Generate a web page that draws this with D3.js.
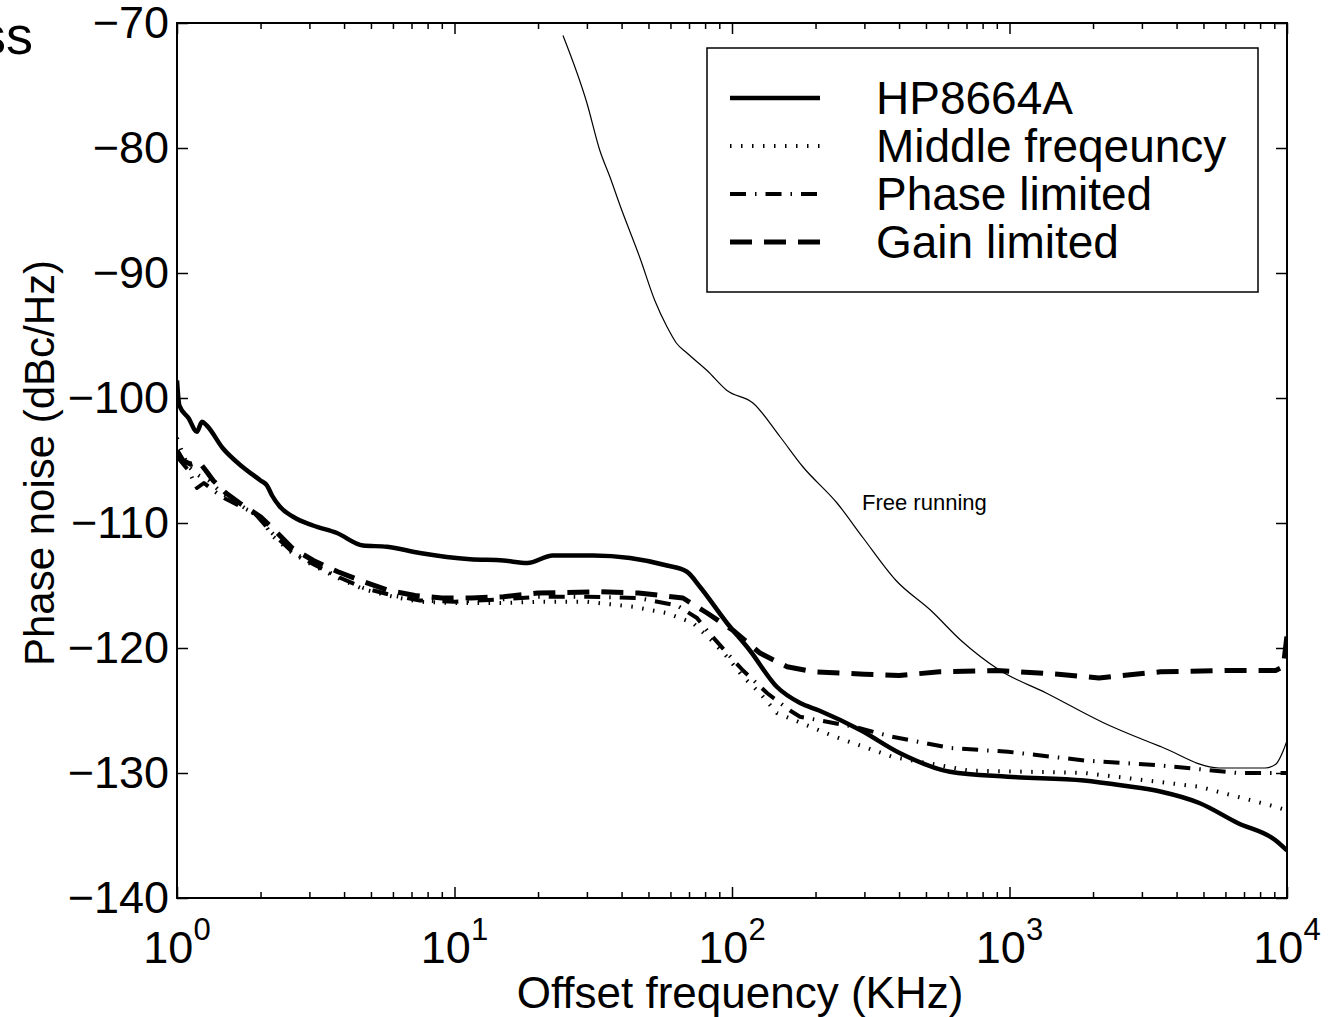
<!DOCTYPE html>
<html>
<head>
<meta charset="utf-8">
<script src="https://cdn.jsdelivr.net/npm/d3@7"></script>
<style>
  body { margin: 0; background: #fff; }
  svg { font-family: "Liberation Sans", Arial, Helvetica, sans-serif; }
</style>
</head>
<body>
<div class="chart"></div>
<script>
// offset frequency (kHz), phase noise (dBc/Hz)
const hp8664a = [
  [1, -98.6], [1.02, -100.6], [1.1, -101.6], [1.18, -102.7], [1.23, -101.9], [1.28, -102.2],
  [1.46, -104], [1.72, -105.5], [2.0, -106.6], [2.11, -107], [2.2, -107.8], [2.35, -108.7],
  [2.62, -109.5], [3.09, -110.2], [3.77, -110.8], [4.68, -111.8], [5.71, -111.9], [7.5, -112.4],
  [11.4, -112.9], [15, -113], [18.3, -113.2], [22.6, -112.6], [31.6, -112.6], [42.9, -112.8],
  [58.3, -113.4], [68.8, -113.9], [76.6, -115.1], [95.9, -118], [116, -120.2], [145, -123.1],
  [176, -124.4], [206, -125], [292, -126.6], [402, -128.4], [610, -129.9], [985, -130.3],
  [1855, -130.6], [2555, -131], [3525, -131.5], [4830, -132.4], [6640, -134], [9110, -135.4],
  [10000, -136.2]
];
const middleFreq = [
  [1, -103.2], [1.05, -104.5], [1.1, -105.5], [1.2, -106.2], [1.3, -106.6], [1.45, -107.6],
  [1.7, -108.6], [2.0, -109.6], [2.2, -111], [2.6, -112.4], [3.1, -113.4], [3.8, -114.4],
  [4.7, -115.3], [6, -115.9], [7.5, -116.3], [10, -116.4], [15, -116.4], [20, -116.3],
  [30, -116.3], [44, -116.7], [58.3, -117.2], [72.3, -118], [85.5, -119.5], [95.9, -120.7],
  [109.6, -122.3], [126, -123.6], [145, -125.2], [235, -127.1], [378, -128.7], [711, -129.8],
  [1870, -130], [4830, -131.1], [9110, -132.7], [10000, -133]
];
const phaseLimited = [
  [1, -104.7], [1.1, -105.8], [1.18, -107.2], [1.25, -106.8], [1.45, -107.9], [1.7, -108.7],
  [1.9, -109.2], [2.2, -110.8], [2.6, -112.3], [3.1, -113.3], [3.8, -114.3], [4.7, -115.2],
  [6, -115.8], [7.5, -116.2], [10, -116.3], [15, -116.1], [20, -115.9], [30, -115.9],
  [46, -116], [63.4, -116.6], [74.8, -117.6], [81.3, -118.6], [95.9, -120.4], [109.6, -121.8],
  [133.7, -123.6], [161.8, -125], [175.8, -125.5], [275, -126.3], [378, -127.1], [611, -128],
  [988, -128.3], [1870, -129], [3518, -129.4], [6670, -130], [10000, -130]
];
const gainLimited = [
  [1, -104.2], [1.05, -105], [1.12, -105.3], [1.2, -105.1], [1.27, -105.8], [1.35, -106.6],
  [1.5, -107.6], [1.68, -108.4], [2.0, -109.5], [2.3, -110.8], [2.6, -112], [3.1, -113],
  [3.8, -113.9], [4.7, -114.7], [5.8, -115.4], [7.2, -115.8], [9, -116], [11.5, -116],
  [15, -115.9], [20, -115.6], [33, -115.5], [46, -115.6], [66.6, -116], [81.3, -117.2],
  [101, -118.6], [126, -120.4], [158, -121.5], [196, -121.9], [300, -122.1], [400, -122.2],
  [560, -121.9], [900, -121.8], [1500, -122.1], [2100, -122.4], [3500, -121.9], [6000, -121.8],
  [9100, -121.8], [9700, -121.5], [10000, -119]
];
const freeRunning = [
  [24.6, -71], [30, -76.4], [33.4, -80.2], [36.3, -82.3], [39.5, -84.6], [46.6, -88.8],
  [52.7, -92.2], [58.3, -94.3], [63, -95.6], [68.8, -96.4], [81.3, -97.8], [95.9, -99.4],
  [119, -100.4], [149, -103.1], [180, -105.5], [239, -108.4], [297, -111.2], [390, -114.6],
  [521, -117], [669, -119.4], [925, -121.8], [1355, -123.6], [2190, -126], [3518, -127.9],
  [5690, -129.6], [8340, -129.6], [9110, -129.3], [9700, -128.2], [10000, -127.4]
];

const seriesNames = ["HP8664A", "Middle freqeuncy", "Phase limited", "Gain limited"];
const xDecades = [1, 10, 100, 1000, 10000];
const yTicks = [-140, -130, -120, -110, -100, -90, -80, -70];

const width = 1340, height = 1017;
const margin = { top: 23, left: 177, right: 53, bottom: 119 };
const plotW = width - margin.left - margin.right;
const plotH = height - margin.top - margin.bottom;

const styles = {
  "HP8664A": { width: 4.5, dash: null },
  "Middle freqeuncy": { width: 4, dash: "1.5,9.5" },
  "Phase limited": { width: 4, dash: "16,9,1.5,9" },
  "Gain limited": { width: 5, dash: "22,12" }
};

const svg = d3.select(".chart").append("svg")
  .attr("width", width)
  .attr("height", height);

const g = svg.append("g")
  .attr("transform", `translate(${margin.left},${margin.top})`);

const x = d3.scaleLog().domain([1, 10000]).range([0, plotW]);
const y = d3.scaleLinear().domain([-140, -70]).range([plotH, 0]);

g.append("clipPath").attr("id", "clip")
  .append("rect").attr("width", plotW).attr("height", plotH);

// axes (ticks pointing inward)
const minorTicks = x.ticks().filter(v => !xDecades.includes(v));
const styleAxis = sel => {
  sel.select(".domain").remove();
  sel.selectAll("line").attr("stroke", "#000").attr("stroke-width", 1.5);
};

g.append("g").attr("transform", `translate(0,${plotH})`)
  .call(d3.axisBottom(x).tickValues(xDecades).tickSize(-11).tickFormat(""))
  .call(styleAxis);
g.append("g").attr("transform", `translate(0,${plotH})`)
  .call(d3.axisBottom(x).tickValues(minorTicks).tickSize(-6).tickFormat(""))
  .call(styleAxis);
g.append("g")
  .call(d3.axisTop(x).tickValues(xDecades).tickSize(-11).tickFormat(""))
  .call(styleAxis);
g.append("g")
  .call(d3.axisTop(x).tickValues(minorTicks).tickSize(-6).tickFormat(""))
  .call(styleAxis);

const yAxis = g.append("g")
  .call(d3.axisLeft(y).tickValues(yTicks).tickSize(-11).tickPadding(8))
  .call(styleAxis);
yAxis.selectAll("text")
  .attr("fill", "#000")
  .style("font-size", "45px")
  .style("font-family", "Liberation Sans, Arial, sans-serif");
g.append("g").attr("transform", `translate(${plotW},0)`)
  .call(d3.axisRight(y).tickValues(yTicks).tickSize(-11).tickFormat(""))
  .call(styleAxis);

// x decade labels 10^n
const xl = g.append("g").selectAll("text")
  .data(xDecades)
  .enter()
  .append("text")
  .attr("x", d => x(d))
  .attr("y", plotH + 65)
  .attr("text-anchor", "middle")
  .style("font-size", "45px");
xl.append("tspan").text("10");
xl.append("tspan")
  .attr("dy", -23)
  .style("font-size", "31px")
  .text(d => Math.round(Math.log10(d)));

// lines
const line = d3.line()
  .x(d => x(d[0]))
  .y(d => y(d[1]));
const smoothLine = d3.line()
  .x(d => x(d[0]))
  .y(d => y(d[1]))
  .curve(d3.curveMonotoneX);

const plot = g.append("g").attr("clip-path", "url(#clip)");

plot.append("path")
  .datum(freeRunning)
  .attr("fill", "none")
  .attr("stroke", "#000")
  .attr("stroke-width", 1.2)
  .attr("d", smoothLine);

[hp8664a, middleFreq, phaseLimited, gainLimited].forEach((data, i) => {
  const s = styles[seriesNames[i]];
  plot.append("path")
    .datum(data)
    .attr("fill", "none")
    .attr("stroke", "#000")
    .attr("stroke-width", s.width)
    .attr("stroke-dasharray", s.dash)
    .attr("stroke-linejoin", "round")
    .attr("d", i == 0 ? smoothLine : line);
});

// frame
g.append("rect")
  .attr("width", plotW)
  .attr("height", plotH)
  .attr("fill", "none")
  .attr("stroke", "#000")
  .attr("stroke-width", 2);

// annotation
g.append("text")
  .attr("x", 862 - margin.left)
  .attr("y", 510 - margin.top)
  .style("font-size", "22px")
  .text("Free running");

// legend
const legend = svg.append("g").attr("transform", "translate(707,48)");
legend.append("rect")
  .attr("width", 551)
  .attr("height", 244)
  .attr("fill", "#fff")
  .attr("stroke", "#000")
  .attr("stroke-width", 1.5);

const rows = legend.selectAll(".row")
  .data(seriesNames)
  .enter()
  .append("g")
  .attr("transform", (d, i) => `translate(0,${50 + i * 48})`);
rows.append("line")
  .attr("x1", 23).attr("x2", 113)
  .attr("stroke", "#000")
  .attr("stroke-width", d => styles[d].width)
  .attr("stroke-dasharray", d => styles[d].dash);
rows.append("text")
  .attr("x", 169)
  .attr("y", 16)
  .style("font-size", "46px")
  .text(d => d);

// axis titles
svg.append("text")
  .attr("x", 740)
  .attr("y", 1008)
  .attr("text-anchor", "middle")
  .style("font-size", "44px")
  .text("Offset frequency (KHz)");

svg.append("text")
  .attr("transform", "translate(54,463) rotate(-90)")
  .attr("text-anchor", "middle")
  .style("font-size", "42px")
  .text("Phase noise (dBc/Hz)");

// clipped title fragment at the top left
svg.append("text")
  .attr("x", 33)
  .attr("y", 54)
  .attr("text-anchor", "end")
  .style("font-size", "54px")
  .text("ss");
</script>
</body>
</html>
